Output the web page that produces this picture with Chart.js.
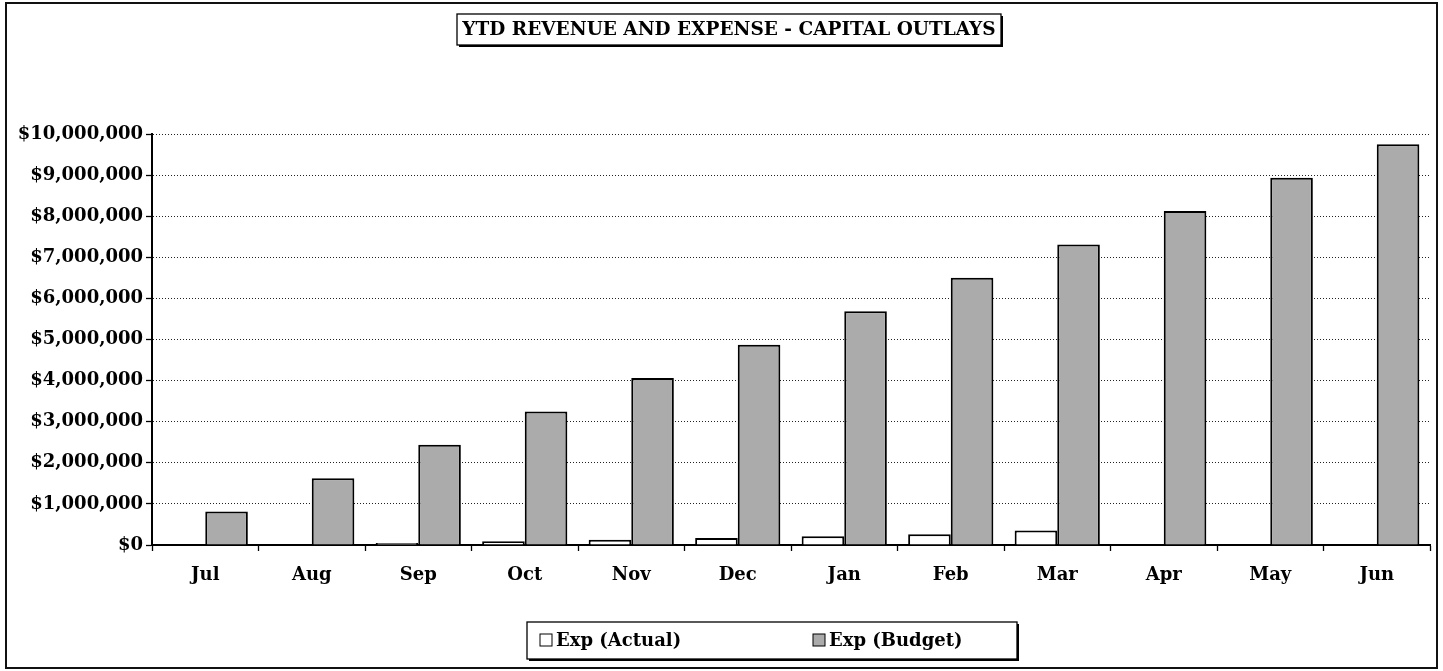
<!DOCTYPE html>
<html>
<head>
<meta charset="utf-8">
<script src="https://cdn.jsdelivr.net/npm/chart.js@4"></script>
<style>
  body { margin: 0; background: #fff; }
  #wrap { width: 1443px; height: 671px; }
</style>
</head>
<body>
<div id="wrap"><canvas id="capChart" width="1443" height="671"></canvas></div>
<script>
// datos
const months = ["Jul", "Aug", "Sep", "Oct", "Nov", "Dec", "Jan", "Feb", "Mar", "Apr", "May", "Jun"];
const expActual = [0, 10000, 50000, 90000, 130000, 170000, 210000, 260000, 350000, null, null, null];
const expBudget = [812500, 1625000, 2437500, 3250000, 4062500, 4875000, 5687500, 6500000, 7312500, 8125000, 8937500, 9750000];
const yTicks = [0, 1000000, 2000000, 3000000, 4000000, 5000000, 6000000, 7000000, 8000000, 9000000, 10000000];
const chartTitle = "YTD REVENUE AND EXPENSE - CAPITAL OUTLAYS";

const FONT = "'DejaVu Serif', 'Liberation Serif', serif";

// recuadro con sombra (titulo y leyenda)
function shadowBox(ctx, x, y, w, h) {
  ctx.fillStyle = "#000";
  ctx.fillRect(x + 2, y + 2, w, h);
  ctx.fillStyle = "#fff";
  ctx.fillRect(x, y, w, h);
  ctx.lineWidth = 1.3;
  ctx.strokeStyle = "#000";
  ctx.strokeRect(x, y, w, h);
}

const framePlugin = {
  id: "frame",
  beforeDraw(chart) {
    const ctx = chart.ctx;
    ctx.save();
    ctx.fillStyle = "#fff";
    ctx.fillRect(0, 0, chart.width, chart.height);
    ctx.restore();
  },
  afterDraw(chart) {
    const ctx = chart.ctx;
    ctx.save();
    // marco exterior
    ctx.lineWidth = 2;
    ctx.strokeStyle = "#111";
    ctx.strokeRect(6, 3, 1431, 665);

    // titulo
    shadowBox(ctx, 457, 14, 544, 31);
    ctx.fillStyle = "#000";
    ctx.font = "bold 18.5px " + FONT;
    ctx.textAlign = "center";
    ctx.textBaseline = "middle";
    ctx.fillText(chartTitle, 729, 30);

    // leyenda
    shadowBox(ctx, 527, 622, 490, 37);
    ctx.font = "bold 18px " + FONT;
    const items = chart.data.datasets;
    const xs = [540, 813];
    ctx.textAlign = "left";
    items.forEach((ds, i) => {
      ctx.fillStyle = ds.backgroundColor;
      ctx.fillRect(xs[i], 634, 12, 12);
      ctx.lineWidth = 1;
      ctx.strokeStyle = "#000";
      ctx.strokeRect(xs[i], 634, 12, 12);
      ctx.fillStyle = "#000";
      ctx.fillText(ds.label, xs[i] + 16, 641);
    });
    ctx.restore();
  },
};

const ctx = document.getElementById("capChart").getContext("2d");
const capChart = new Chart(ctx, {
  type: "bar",
  data: {
    labels: months,
    datasets: [
      {
        label: "Exp (Actual)",
        data: expActual,
        backgroundColor: "#ffffff",
        borderColor: "#000000",
        borderWidth: 2,
        borderSkipped: "bottom",
      },
      {
        label: "Exp (Budget)",
        data: expBudget,
        backgroundColor: "#ababab",
        borderColor: "#000000",
        borderWidth: 2,
        borderSkipped: "bottom",
      },
    ],
  },
  options: {
    responsive: false,
    animation: false,
    events: [],
    layout: { padding: { left: 0, right: 13, top: 134, bottom: 0 } },
    datasets: { bar: { categoryPercentage: 0.8, barPercentage: 1.0 } },
    plugins: {
      legend: { display: false },
      title: { display: false },
      tooltip: { enabled: false },
    },
    scales: {
      x: {
        grid: {
          display: true,
          drawOnChartArea: false,
          drawTicks: true,
          tickLength: 6,
          tickColor: "#000",
          tickWidth: 1.3,
          offset: true,
        },
        border: { display: true, color: "#000", width: 2 },
        ticks: {
          color: "#000",
          font: { family: FONT, size: 18, weight: "bold" },
          padding: 14,
          maxRotation: 0,
        },
        afterFit(scale) { scale.height = 671 - 545; },
      },
      y: {
        min: 0,
        max: 10000000,
        afterBuildTicks(scale) { scale.ticks = yTicks.map((v) => ({ value: v })); },
        grid: {
          color: "#222",
          lineWidth: 1,
          drawTicks: true,
          tickLength: 6,
          tickColor: "#000",
          tickWidth: 1.3,
          tickBorderDash: [],
        },
        border: { display: true, color: "#000", width: 2, dash: [1, 2] },
        ticks: {
          color: "#000",
          font: { family: FONT, size: 18, weight: "bold" },
          padding: 3,
          callback: (v) => "$" + Number(v).toLocaleString("en-US"),
        },
        afterFit(scale) { scale.width = 152; },
      },
    },
  },
  plugins: [framePlugin],
});
</script>
</body>
</html>
